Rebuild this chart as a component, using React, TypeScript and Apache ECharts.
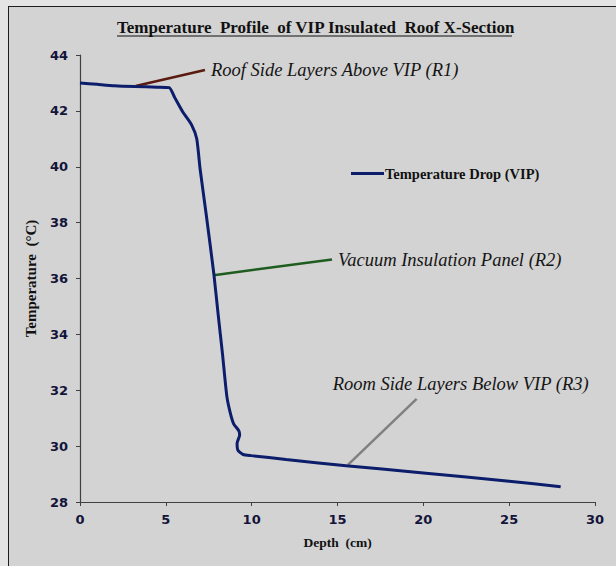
import React, { useEffect, useRef } from "react";
import * as echarts from "echarts";

const titleText = "Temperature  Profile  of VIP Insulated  Roof X-Section";
const seriesName = "Temperature Drop (VIP)";
const xName = "Depth  (cm)";
const yName = "Temperature  (°C)";

// depth (cm), temperature (°C)
const depth = [0, 1, 2, 3.2, 4.5, 5.2, 5.5, 6.0, 6.5, 6.8, 7.0, 7.35, 7.8, 8.05, 8.3, 8.55, 8.75, 8.95, 9.25, 9.3, 9.15, 9.2, 9.5, 10, 12, 15.5, 20, 25, 28];
const temperature = [43.0, 42.95, 42.9, 42.87, 42.85, 42.83, 42.5, 41.95, 41.5, 41.0, 39.9, 38.3, 36.15, 34.7, 33.3, 31.8, 31.2, 30.8, 30.55, 30.4, 30.1, 29.85, 29.7, 29.66, 29.52, 29.3, 29.04, 28.74, 28.55];

// annotation leader lines [x1, y1, x2, y2] in data units
const annR1 = [3.24, 42.89, 7.28, 43.46];
const annR2 = [7.79, 36.12, 14.68, 36.68];
const annR3 = [15.56, 29.3, 19.61, 31.69];
const annLabels = ["Roof Side Layers Above VIP (R1)", "Vacuum Insulation Panel (R2)", "Room Side Layers Below VIP (R3)"];

export default function App() {
  const ref = useRef<HTMLDivElement>(null);
  useEffect(() => {
    if (!ref.current) return;
    const chart = echarts.init(ref.current, null, { renderer: "svg" });
    const serif = "'Liberation Serif', 'Times New Roman', serif";
    const annSeries = (a: number[], label: string, color: string, offset: number[]) => ({
      type: "line",
      data: [[a[0], a[1]], [a[2], a[3]]],
      symbol: "none",
      silent: true,
      z: 3,
      lineStyle: { color, width: 2.5 },
      endLabel: {
        show: true,
        formatter: label,
        fontFamily: serif,
        fontStyle: "italic",
        fontSize: 18.5,
        color: "#151515",
        distance: 6,
        offset,
      },
    });
    chart.setOption({
      animation: false,
      backgroundColor: "transparent",
      grid: { left: 80, top: 55, right: 21, bottom: 64, containLabel: false },
      graphic: [
        {
          type: "text",
          left: 117,
          top: 19,
          style: { text: titleText, font: `bold 17px ${serif}`, fill: "#111" },
        },
        {
          type: "line",
          shape: { x1: 117, y1: 36, x2: 512, y2: 36 },
          style: { stroke: "#111", lineWidth: 1.2 },
        },
      ],
      legend: {
        data: [seriesName],
        left: 346,
        top: 161,
        icon: "rect",
        itemWidth: 33,
        itemHeight: 3,
        textStyle: { fontFamily: serif, fontWeight: "bold", fontSize: 14.5, color: "#111", padding: [0, 0, 0, -4] },
      },
      xAxis: {
        type: "value",
        min: 0,
        max: 30,
        interval: 5,
        name: xName,
        nameLocation: "middle",
        nameGap: 33,
        nameTextStyle: { fontFamily: serif, fontWeight: "bold", fontSize: 13.5, color: "#111" },
        axisLine: { show: true, lineStyle: { color: "#404040", width: 1.2 } },
        axisTick: { show: true, length: 4, lineStyle: { color: "#404040" } },
        splitLine: { show: false },
        axisLabel: { margin: 11, fontFamily: "'DejaVu Sans', sans-serif", fontWeight: "bold", fontSize: 13, color: "#14143a" },
      },
      yAxis: {
        type: "value",
        min: 28,
        max: 44,
        interval: 2,
        name: yName,
        nameLocation: "middle",
        nameGap: 42,
        nameTextStyle: { fontFamily: serif, fontWeight: "bold", fontSize: 15, color: "#111" },
        axisLine: { show: true, lineStyle: { color: "#404040", width: 1.2 } },
        axisTick: { show: true, length: 4, lineStyle: { color: "#404040" } },
        splitLine: { show: false },
        axisLabel: { margin: 12, fontFamily: "'DejaVu Sans', sans-serif", fontWeight: "bold", fontSize: 13, color: "#14143a" },
      },
      series: [
        {
          name: seriesName,
          type: "line",
          data: depth.map((d, i) => [d, temperature[i]]),
          symbol: "none",
          smooth: 0.2,
          z: 4,
          lineStyle: { color: "#0c1d6b", width: 3 },
          itemStyle: { color: "#0c1d6b" },
        },
        annSeries(annR1, annLabels[0], "#5a1a10", [0, 0]),
        annSeries(annR2, annLabels[1], "#1f5c1f", [0, 0]),
        annSeries(annR3, annLabels[2], "#808080", [-90, -15]),
      ],
    });
    return () => chart.dispose();
  }, []);
  return (
    <div style={{ position: "fixed", left: 0, top: 0, width: 616, height: 566, background: "#e4e4e4", overflow: "hidden" }}>
      <div
        style={{
          position: "absolute",
          left: 8,
          top: 6,
          width: 640,
          height: 600,
          background: "#d3d3d3",
          borderLeft: "1.5px solid #1e1e1e",
          borderTop: "1.5px solid #1e1e1e",
        }}
      />
      <div ref={ref} style={{ position: "absolute", left: 0, top: 0, width: 616, height: 566 }} />
    </div>
  );
}
